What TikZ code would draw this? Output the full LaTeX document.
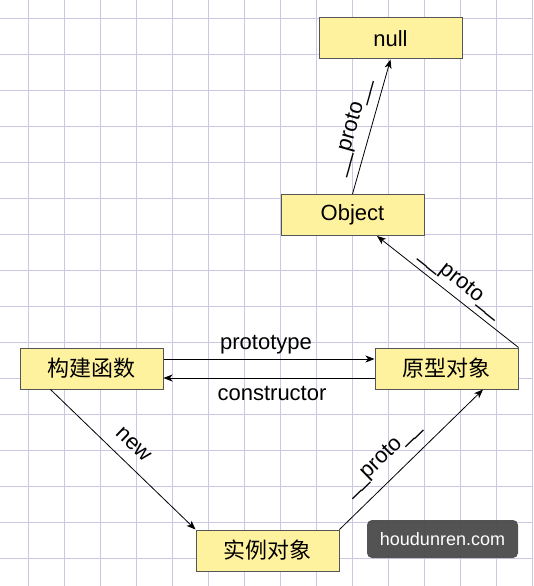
\documentclass[tikz,border=0pt]{standalone}
\usepackage{fontspec}
\setmainfont{Liberation Sans}
\newfontfamily\cjk{Noto Sans CJK SC}
\usetikzlibrary{arrows.meta}
\definecolor{gridc}{RGB}{204,200,228}
\definecolor{boxfill}{RGB}{255,242,158}
\definecolor{boxline}{RGB}{85,85,85}
\definecolor{wmfill}{RGB}{74,74,74}
\begin{document}
\begin{tikzpicture}[x=1pt,y=-1pt,
  box/.style={draw=boxline, line width=1pt, fill=boxfill, minimum width=143pt, minimum height=41pt, inner sep=0pt, font=\fontsize{22}{26}\selectfont},
  cbox/.style={box, font=\cjk\fontsize{22}{26}\selectfont},
  conn/.style={draw=black, line width=0.8pt, -{Stealth[length=9pt,width=7pt,inset=2.5pt]}},
  lbl/.style={font=\fontsize{22}{26}\selectfont, inner sep=0pt, text=black},
  wmark/.style={fill=wmfill, fill opacity=0.95, text opacity=1, rounded corners=5pt, minimum width=151pt, minimum height=38pt, inner sep=0pt, text=white, font=\fontsize{18}{22}\selectfont}]
\useasboundingbox (0,0) rectangle (533,586);
\fill[white] (0,0) rectangle (533,586);
\foreach \i in {0,...,14} \draw[gridc, line width=1pt] ({28.3+36*\i},0) -- ({28.3+36*\i},586);
\foreach \j in {0,...,15} \draw[gridc, line width=1pt] (0,{18.3+36*\j}) -- (533,{18.3+36*\j});

\node[box] (null) at (390.5,38.5) {null};
\node[box] (obj) at (352.5,215) {Object};
\node[cbox] (ctor) at (91.5,368.5) {构建函数};
\node[cbox] (proto) at (446.5,368.5) {原型对象};
\node[cbox] (inst) at (267.5,550.5) {实例对象};

\draw[conn] ([yshift=9.5pt]ctor.east) -- node[lbl, anchor=base, yshift=9.5pt, xshift=-3pt]{prototype} ([yshift=9.5pt]proto.west);
\draw[conn] ([yshift=-9.5pt]proto.west) -- node[lbl, anchor=base, yshift=-22pt, xshift=3pt]{constructor} ([yshift=-9.5pt]ctor.east);
\draw[conn] ([xshift=31pt]ctor.south west) -- node[lbl, sloped, pos=0.485, above=11.5pt]{new} (inst.north west);
\draw[conn] (inst.north east) -- node[lbl, sloped, pos=0.40, above=11pt]{\_\_proto\_\_} ([xshift=36.5pt]proto.south);
\draw[conn] (proto.north east) -- node[lbl, sloped, pos=0.47, above=5pt]{\_\_proto\_\_} ([xshift=24.5pt]obj.south);
\draw[conn] (obj.north) -- node[lbl, sloped, pos=0.46, above=9pt]{\_\_proto\_\_} (null.south);

\node[wmark] (wm) at (442.5,539) {houdunren.com};
\end{tikzpicture}
\end{document}
